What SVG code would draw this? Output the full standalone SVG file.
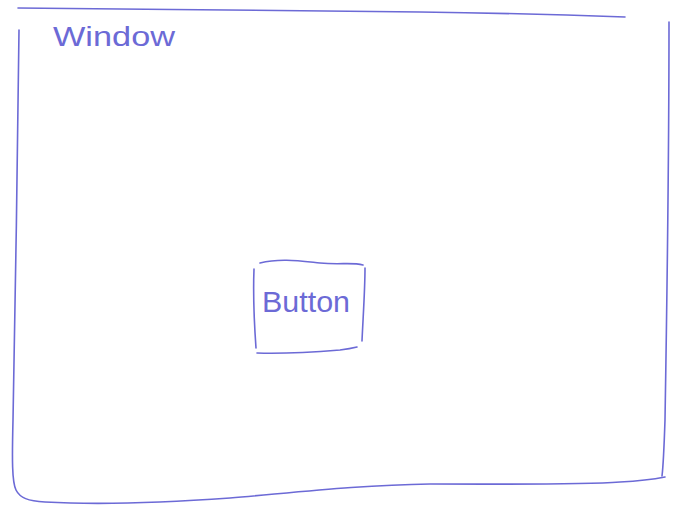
<svg xmlns="http://www.w3.org/2000/svg" width="687" height="517" viewBox="0 0 687 517">
<style>
.ink{fill:none;stroke:#6c6ad6;stroke-width:1.6;stroke-linecap:round;stroke-linejoin:round}
.lbl{font-family:"Liberation Sans",Arial,sans-serif;fill:#6c6ad6;font-weight:normal}
</style>
<rect width="687" height="517" fill="#ffffff"/>
<g id="window">
<path class="ink" d="M18 8 C150 9 300 11 420 12 C500 13 570 15 625 17"/>
<path class="ink" d="M19 30 C18 150 15 300 13 420 C12 460 12 482 16 490 C20 498 28 501 45 502 C100 505 160 503 230 498 C300 492 360 485 430 484 C520 484 580 485 620 482 C640 481 655 479 665 477"/>
<path class="ink" d="M669 22 C669 150 667 300 665 420 C664 450 663 468 662 476"/>
<text class="lbl" x="53" y="46" font-size="28" textLength="122" lengthAdjust="spacingAndGlyphs">Window</text>
</g>
<g id="button">
<path class="ink" d="M260 263 C280 258 300 261 320 263 C340 265 352 262 363 265"/>
<path class="ink" d="M254 269 C253 295 254 320 256 348"/>
<path class="ink" d="M365 268 C365 290 363 318 362 341"/>
<path class="ink" d="M257 353 C285 354 315 352 340 350 C348 349 353 348 357 347"/>
<text class="lbl" x="306" y="312" font-size="30" text-anchor="middle" textLength="88" lengthAdjust="spacingAndGlyphs">Button</text>
</g>
<g id="connectors"></g>
</svg>
